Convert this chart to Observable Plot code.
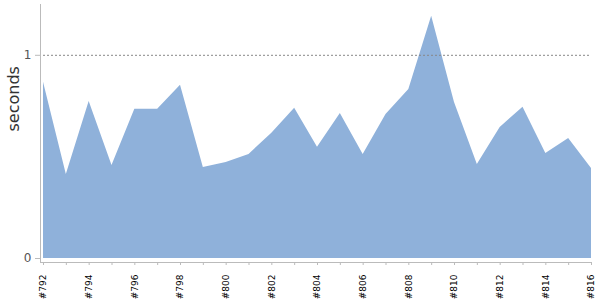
<!DOCTYPE html>
<html><head><meta charset="utf-8">
<script src="https://cdn.jsdelivr.net/npm/d3@7"></script>
<script src="https://cdn.jsdelivr.net/npm/@observablehq/plot@0.6"></script>
<style>body{margin:0;background:#fff}</style>
</head><body><div id="chart"></div>
<script>
const labels = ["#792","#793","#794","#795","#796","#797","#798","#799","#800","#801","#802","#803","#804","#805","#806","#807","#808","#809","#810","#811","#812","#813","#814","#815","#816"];
const seconds = [0.867,0.414,0.773,0.458,0.734,0.734,0.852,0.448,0.473,0.512,0.616,0.739,0.547,0.714,0.512,0.709,0.832,1.192,0.768,0.463,0.645,0.744,0.517,0.591,0.443];
const yTicks = [0, 1];
const yLabel = "seconds";

const data = labels.map((l, i) => ({i, label: l, s: seconds[i]}));
const allIdx = labels.map((_, i) => i);
const evenIdx = allIdx.filter(i => i % 2 === 0);

const chart = Plot.plot({
  width: 600, height: 300,
  marginLeft: 43, marginRight: 9, marginTop: 4, marginBottom: 42,
  x: {type: "linear", domain: [0, labels.length - 1]},
  y: {domain: [0, 1.25]},
  style: {fontFamily: "DejaVu Sans", background: "white"},
  marks: [
    Plot.areaY(data, {x: "i", y: "s", fill: "#8fb1da"}),
    Plot.ruleY([1], {stroke: "#888", strokeDasharray: "2,2", strokeWidth: 1}),
    Plot.ruleX([0], {dx: -3, stroke: "#bbb", insetBottom: -4}),
    Plot.ruleY([0], {dy: 4, stroke: "#bbb", insetLeft: -3}),
    Plot.axisY({ticks: yTicks, tickSize: 5, dx: -3, stroke: "#bbb", fill: "#555", fontSize: 12, label: null, tickFormat: d => String(d)}),
    Plot.text([yLabel], {text: d => d, frameAnchor: "left", dx: -30, rotate: -90, fontSize: 16, fill: "#333"}),
    Plot.axisX({ticks: allIdx, tickFormat: () => "", tickSize: 3, dy: 4, stroke: "#bbb", label: null}),
    Plot.axisX({ticks: evenIdx, tickFormat: i => labels[i], tickSize: 0, tickPadding: 16, tickRotate: -90, fontSize: 9, fill: "#000", label: null})
  ]
});
document.getElementById("chart").append(chart);
</script></body></html>
